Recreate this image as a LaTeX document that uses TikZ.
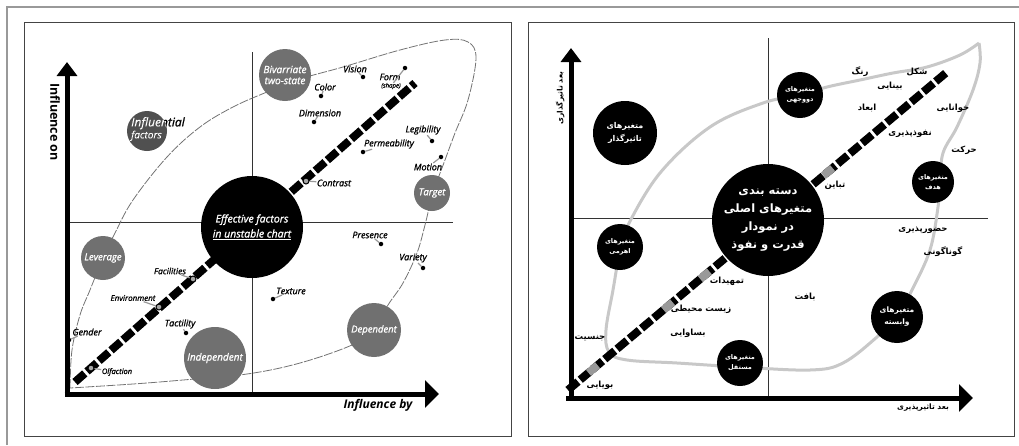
\documentclass[tikz,border=0pt]{standalone}
\usepackage{fontspec}
\setmainfont{Open Sans}
\newfontfamily\labf{Open Sans}[FakeBold=1.2]
\newfontfamily\farsib[Script=Arabic]{DejaVu Sans}
\TeXXeTstate=1
\newcommand\FA[1]{{\farsib\bfseries\beginR #1\endR}}
\usetikzlibrary{arrows.meta,calc}
\definecolor{cgray}{HTML}{707070}
\definecolor{cdark}{HTML}{505050}
\definecolor{leafc}{HTML}{C8C8C8}
\definecolor{framec}{HTML}{444444}
\tikzset{
  frame/.style={draw=framec, line width=1pt},
  quad/.style={draw=black!80, line width=1pt},
  axisL/.style={line width=5pt, -{Triangle[width=20pt,length=14pt]}},
  axisX/.style={line width=5pt, -{Triangle[width=27pt,length=14pt]}},
  leafL/.style={draw=black!55, line width=0.8pt, dash pattern=on 9pt off 1.5pt},
  leafR/.style={draw=leafc, line width=3pt},
  dashdiag/.style={draw=black, line width=8pt, dash pattern=on 13pt off 3pt},
  gcirc/.style={circle, fill=cgray, inner sep=0pt, text=white, align=center, font=\labf\itshape\fontsize{10}{11}\selectfont},
  bcirc/.style={circle, fill=black, inner sep=0pt, text=white, align=center},
  lab/.style={inner sep=0.5pt, font=\labf\itshape\fontsize{9}{10}\selectfont},
  pinm/.style={circle, fill=black, minimum size=4.5pt, inner sep=0pt},
  pinr/.style={circle, draw=black, fill=black!35, line width=1pt, minimum size=6pt, inner sep=0pt},
  tail/.style={draw=black!40, line width=1.2pt},
  flab/.style={inner sep=0pt, font=\fontsize{8.5}{10}\selectfont},
  graysq/.style={draw=black!40, line width=8pt},
}
\begin{document}
\begin{tikzpicture}[x=1pt,y=-1pt]
\useasboundingbox (0,0) rectangle (1019,445);
% outer gray border
\draw[black!40, line width=1.5pt] (7,445) -- (7,7) -- (1019,7);
% panel frames
\draw[frame] (24,22) rectangle (511,436);
\draw[frame] (528,22) rectangle (1014,436);

% ================= LEFT PANEL =================
\draw[quad] (252,52) -- (252,392);
\draw[quad] (67,222) -- (453,222);
\draw[leafL] plot[smooth, tension=0.6] coordinates {(70,388) (72,350) (80,315) (90,290) (103,258) (115,233) (133,200) (167,157) (200,127) (233,107) (267,92) (300,79) (343,67) (400,50) (445,40) (468,42) (476,58) (468,100) (455,133) (445,160) (433,193) (425,225) (417,253) (403,283) (388,305) (374,330) (352,345) (300,363) (247,374) (183,380) (133,384) (70,388)};
\coordinate (dLa) at (75,382);
\coordinate (dLb) at (415,83);
\draw[dashdiag] (dLa) -- (dLb);

\node[bcirc, minimum size=102pt, font=\labf\itshape\fontsize{10.5}{15}\selectfont] (cCenterL) at (252,227) {Effective factors\\\underline{in unstable chart}};
\node[gcirc, minimum size=52pt] (cBiv) at (285,75) {Bivarriate\\two-state};
\node[circle, fill=cdark, minimum size=40pt, inner sep=0pt] (cInf) at (147,131) {};
\node[anchor=west, align=left, inner sep=0pt, font=\labf\itshape\fontsize{12}{12}\selectfont] (tInf) at (131,129) {Influential\\{\fontsize{10}{11}\selectfont factors}};
\begin{scope}
\clip (147,131) circle (20pt);
\node[anchor=west, align=left, inner sep=0pt, text=white, font=\labf\itshape\fontsize{12}{12}\selectfont] at (131,129) {Influential\\{\fontsize{10}{11}\selectfont factors}};
\end{scope}
\node[gcirc, minimum size=44pt, font=\labf\itshape\fontsize{9.5}{10}\selectfont] (cLev) at (103,258) {Leverage};
\node[gcirc, minimum size=36pt, font=\labf\itshape\fontsize{9.5}{10}\selectfont] (cTar) at (432,193) {Target};
\node[gcirc, minimum size=54pt, font=\labf\itshape\fontsize{9.5}{10}\selectfont] (cDep) at (374,330) {Dependent};
\node[gcirc, minimum size=62pt] (cInd) at (215,358) {Independent};

% axes
\coordinate (oLx) at (64.5,394);
\coordinate (oLy) at (67,396.5);
\coordinate (yTipL) at (67,62);
\coordinate (xTipL) at (439,394);
\draw[axisL] (oLy) -- (yTipL);
\draw[axisX] (oLx) -- (xTipL);
\node[rotate=-90, font=\bfseries\fontsize{12.5}{12}\selectfont] (yLabL) at (55,122) {Influence on};
\node[font=\bfseries\itshape\fontsize{12}{12}\selectfont] (xLabL) at (378,405) {Influence by};

% labels with markers
\node[lab] (tVision) at (355,69) {Vision};
\node[lab] (tForm) at (390,77) {Form};
\node[inner sep=0pt, font=\labf\itshape\fontsize{6}{6}\selectfont] (tShape) at (391,86) {(shape)};
\node[lab] (tColor) at (325,87) {Color};
\node[lab] (tDim) at (320,113) {Dimension};
\node[lab] (tLeg) at (423,130) {Legibility};
\node[lab] (tPerm) at (389,144) {Permeability};
\node[lab] (tMotion) at (428,167) {Motion};
\node[lab] (tContrast) at (334,183) {Contrast};
\node[lab] (tPres) at (370,235) {Presence};
\node[lab] (tVar) at (413,258) {Variety};
\node[lab] (tTex) at (291,291) {Texture};
\node[lab, font=\labf\itshape\fontsize{8.5}{10}\selectfont] (tFac) at (170,271) {Facilities};
\node[lab, font=\labf\itshape\fontsize{8}{10}\selectfont] (tEnv) at (133,298) {Environment};
\node[lab] (tTac) at (180,324) {Tactility};
\node[lab] (tGen) at (87,332) {Gender};
\node[lab, font=\labf\itshape\fontsize{7.5}{9}\selectfont] (tOlf) at (117,372) {Olfaction};

\node[pinm] (mVision) at (363,77) {};
\node[pinm] (mForm) at (405,68) {};
\node[pinm] (mColor) at (321,96) {};
\node[pinm] (mDim) at (314,122) {};
\node[pinm] (mLeg) at (432,141) {};
\node[pinm] (mPerm) at (363,152) {};
\node[pinm] (mMotion) at (441,157) {};
\node[pinm] (mPres) at (381,244) {};
\node[pinm] (mVar) at (423,268) {};
\node[pinm] (mTex) at (273,299) {};
\node[pinm] (mTac) at (186,333) {};
\node[pinm] (mGen) at (69,340) {};
\node[pinr] (rContrast) at (306,181) {};
\node[pinr] (rFac) at (193,279) {};
\node[pinr] (rEnv) at (159,307) {};
\node[pinr] (rOlf) at (91,368) {};
\foreach \m/\t in {mVision/tVision, mForm/tShape, mColor/tColor, mDim/tDim, mLeg/tLeg, mPerm/tPerm, mMotion/tMotion, mPres/tPres, mVar/tVar, mTex/tTex, mTac/tTac, mGen/tGen, rContrast/tContrast, rFac/tFac, rEnv/tEnv, rOlf/tOlf}
  \draw[tail] (\m) -- (\t);

% ================= RIGHT PANEL =================
\draw[quad] (768,38) -- (768,398);
\draw[quad] (571,218) -- (988,218);
\draw[leafR] plot[smooth, tension=0.6] coordinates {(979,43) (960,55) (927,67) (893,73) (860,80) (827,87) (800,95) (763,103) (710,127) (660,173) (627,227) (620,250) (613,290) (606,330) (609,352) (627,360) (677,363) (740,367) (810,370) (843,363) (877,337) (897,317) (912,290) (930,250) (938,207) (940,182) (943,153) (957,127) (973,90) (980,63) (979,43)};
\coordinate (dRa) at (568,390);
\coordinate (dRb) at (947,72);
\draw[dashdiag] (dRa) -- (dRb);
\foreach \f in {0.066,0.264,0.361,0.686}
  \draw[graysq] ($(dRa)!\f-0.012!(dRb)$) -- ($(dRa)!\f+0.012!(dRb)$);

\node[bcirc, minimum size=112pt, font=\fontsize{11.5}{18}\selectfont] (cCenterR) at (768,220) {\FA{دسته بندی}\\\FA{متغیرهای اصلی}\\\FA{در نمودار}\\\FA{قدرت و نفوذ}};
\node[bcirc, minimum size=64pt, font=\fontsize{8}{13}\selectfont] (cTa) at (625,133) {\FA{متغیرهای}\\\FA{تاثیرگذار}};
\node[bcirc, minimum size=46pt, font=\fontsize{6.5}{10}\selectfont] (cDo) at (800,95) {\FA{متغیرهای}\\\FA{دووجهی}};
\node[bcirc, minimum size=42pt, font=\fontsize{6.5}{10}\selectfont] (cHa) at (933,182) {\FA{متغیرهای}\\\FA{هدف}};
\node[bcirc, minimum size=46pt, font=\fontsize{6.5}{10}\selectfont] (cAh) at (620,247) {\FA{متغیرهای}\\\FA{اهرمی}};
\node[bcirc, minimum size=52pt, font=\fontsize{7.5}{12}\selectfont] (cVa) at (897,317) {\FA{متغیرهای}\\\FA{وابسته}};
\node[bcirc, minimum size=46pt, font=\fontsize{6.5}{10}\selectfont] (cMo) at (740,363) {\FA{متغیرهای}\\\FA{مستقل}};

\coordinate (oRx) at (566,398);
\coordinate (oRy) at (571,400.5);
\coordinate (yTipR) at (571,48);
\coordinate (xTipR) at (973,398);
\draw[axisL] (oRy) -- (yTipR);
\draw[axisX] (oRx) -- (xTipR);
\node[rotate=90, font=\fontsize{7.5}{8}\selectfont] (yLabR) at (560,98) {\FA{بعد تاثیرگذاری}};
\node[font=\fontsize{7.5}{8}\selectfont] (xLabR) at (923,408) {\FA{بعد تاثیرپذیری}};

\node[flab] (pRang) at (860,72) {\FA{رنگ}};
\node[flab] (pShekl) at (917,72) {\FA{شکل}};
\node[flab] (pBinai) at (890,86) {\FA{بینایی}};
\node[flab] (pAbad) at (867,108) {\FA{ابعاد}};
\node[flab] (pKhan) at (953,108) {\FA{خوانایی}};
\node[flab] (pNofuz) at (910,134) {\FA{نفوذپذیری}};
\node[flab] (pHarak) at (964,150) {\FA{حرکت}};
\node[flab] (pTabay) at (835,185) {\FA{تباین}};
\node[flab] (pHozur) at (923,230) {\FA{حضورپذیری}};
\node[flab] (pGuna) at (943,252) {\FA{گوناگونی}};
\node[flab] (pBaft) at (805,297) {\FA{بافت}};
\node[flab] (pTamh) at (727,281) {\FA{تمهیدات}};
\node[flab] (pZist) at (701,309) {\FA{زیست محیطی}};
\node[flab] (pBasa) at (688,333) {\FA{بساوایی}};
\node[flab] (pJens) at (590,338) {\FA{جنسیت}};
\node[flab] (pBuya) at (600,385) {\FA{بویایی}};
\end{tikzpicture}
\end{document}
